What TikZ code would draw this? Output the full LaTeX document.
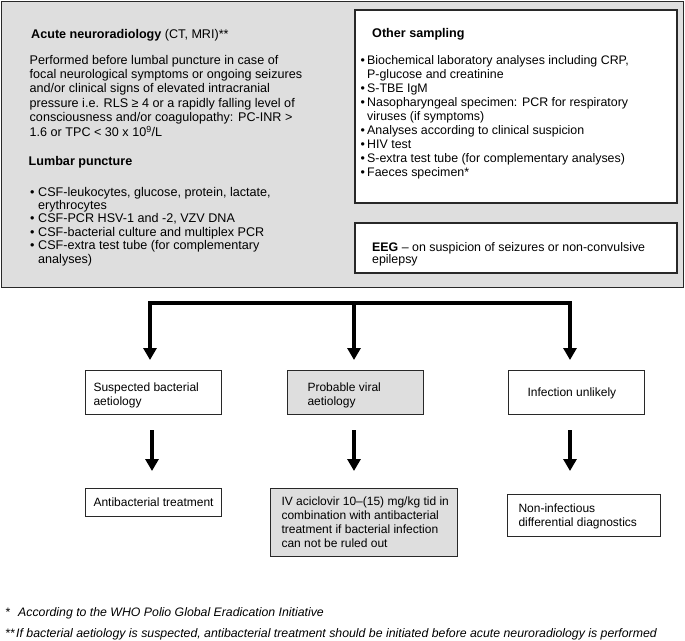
\documentclass[tikz,border=0pt]{standalone}
\usepackage{fontspec}
\setmainfont{Liberation Sans}
\usetikzlibrary{arrows.meta}
\definecolor{panelgray}{RGB}{222,222,222}
\definecolor{edge}{RGB}{40,40,40}
\newcommand\tb[2]{\makebox[#1][l]{\begin{tabular}[t]{@{}l@{}}#2\end{tabular}}}
\newcommand\bl[1]{\makebox[#1][l]{•}}
\begin{document}
\begin{tikzpicture}[x=1pt,y=-1pt,
  txt/.style={inner sep=0pt, anchor=base west, align=left},
  f12/.style={font=\fontsize{12.6}{14.4}\selectfont},
  flist/.style={font=\fontsize{12.6}{13.4}\selectfont},
  fbox/.style={draw=edge, line width=1pt, fill=white, inner sep=0pt, anchor=north west,
     font=\fontsize{12}{14.3}\selectfont},
  gbox/.style={fbox, fill=panelgray},
  arr/.style={line width=3.6pt, -{Triangle[width=13pt,length=12pt]}},
  both/.style={line width=3.6pt, {Triangle[width=13pt,length=12pt]}-{Triangle[width=13pt,length=12pt]}},
  fnote/.style={txt, font=\fontsize{12.3}{12.5}\selectfont\itshape}
]
\useasboundingbox (0,0) rectangle (685,640);
% top panel
\draw[draw=edge, line width=1.5pt, fill=panelgray] (1.5,1.5) rectangle (683.5,287.5);
\draw[draw=edge, line width=1.2pt, fill=white] (355,10) rectangle (677,203);
\draw[draw=edge, line width=1.2pt, fill=white] (355,223) rectangle (677,273);

\node[txt, f12] (acute) at (31,38) {\textbf{Acute neuroradiology} (CT, MRI)**};
\node[txt, f12] (perf) at (29.5,64) {\tb{320pt}{Performed before lumbal puncture in case of\\
focal neurological symptoms or ongoing seizures\\
and/or clinical signs of elevated intracranial\\
pressure i.e. RLS ≥ 4 or a rapidly falling level of\\
consciousness and/or coagulopathy: PC-INR >\\
1.6 or TPC < 30 x 10\textsuperscript{9}/L}};
\node[txt, f12] (lumbar) at (28.5,165) {\textbf{Lumbar puncture}};
\node[txt, flist] (lumlist) at (30,196) {\begin{tabular}[t]{@{}l@{}l@{}}
\bl{8pt}&CSF-leukocytes, glucose, protein, lactate,\\
&erythrocytes\\
\bl{8pt}&CSF-PCR HSV-1 and -2, VZV DNA\\
\bl{8pt}&CSF-bacterial culture and multiplex PCR\\
\bl{8pt}&CSF-extra test tube (for complementary\\
&analyses)\end{tabular}};

\node[txt, f12] (other) at (372,37) {\textbf{Other sampling}};
\node[txt, font=\fontsize{12.4}{14.1}\selectfont] (othlist) at (360.5,64) {\begin{tabular}[t]{@{}l@{}l@{}}
\bl{6.5pt}&Biochemical laboratory analyses including CRP,\\
&P-glucose and creatinine\\
\bl{6.5pt}&S-TBE IgM\\
\bl{6.5pt}&Nasopharyngeal specimen: PCR for respiratory\\
&viruses (if symptoms)\\
\bl{6.5pt}&Analyses according to clinical suspicion\\
\bl{6.5pt}&HIV test\\
\bl{6.5pt}&S-extra test tube (for complementary analyses)\\
\bl{6.5pt}&Faeces specimen*\end{tabular}};
\node[txt, font=\fontsize{12.4}{12.6}\selectfont] (eeg) at (372,251) {\tb{300pt}{\textbf{EEG} – on suspicion of seizures or non-convulsive\\epilepsy}};

% middle boxes
\node[fbox, minimum width=136pt, text height=21pt, text depth=23pt] (susp) at (85,370)
  {\tb{120pt}{Suspected bacterial\\aetiology}};
\node[gbox, minimum width=136pt, text height=21pt, text depth=23pt] (viral) at (287,370)
  {\tb{96pt}{Probable viral\\aetiology}};
\node[fbox, minimum width=136pt, text height=26pt, text depth=18pt] (unl) at (508,370)
  {\tb{98pt}{Infection unlikely}};

% bottom boxes
\node[fbox, minimum width=136pt, text height=18pt, text depth=10pt] (antib) at (85,488)
  {\tb{120pt}{Antibacterial treatment}};
\node[gbox, minimum width=187pt, text height=16.5pt, text depth=51.5pt] (acic) at (270,488)
  {\tb{165pt}{IV aciclovir 10–(15) mg/kg tid in\\combination with antibacterial\\treatment if bacterial infection\\can not be ruled out}};
\node[fbox, minimum width=153pt, text height=18pt, text depth=24pt, font=\fontsize{12}{13.5}\selectfont] (noninf) at (507,494)
  {\tb{131pt}{Non-infectious\\differential diagnostics}};

% connectors
\coordinate (barL) at (150,303);
\coordinate (barM) at (354,303);
\coordinate (barR) at (570,303);
\draw[both, shorten <=10pt, shorten >=10pt] (barL |- susp.north) -- (barL) -- (barR) -- (barR |- unl.north);
\draw[arr, shorten >=10pt] (barM) -- (barM |- viral.north);
\draw[arr, shorten <=15pt, shorten >=17pt] (susp.south -| 152,0) -- (152,0 |- antib.north);
\draw[arr, shorten <=15pt, shorten >=17pt] (viral.south -| barM) -- (barM |- acic.north);
\draw[arr, shorten <=15pt, shorten >=23pt] (unl.south -| barR) -- (barR |- noninf.north);

% footnotes
\node[fnote] (fn1) at (5,616) {\makebox[13pt][l]{*}According to the WHO Polio Global Eradication Initiative};
\node[fnote] (fn2) at (5,637) {\makebox[11pt][l]{**}If bacterial aetiology is suspected, antibacterial treatment should be initiated before acute neuroradiology is performed};
\end{tikzpicture}
\end{document}
